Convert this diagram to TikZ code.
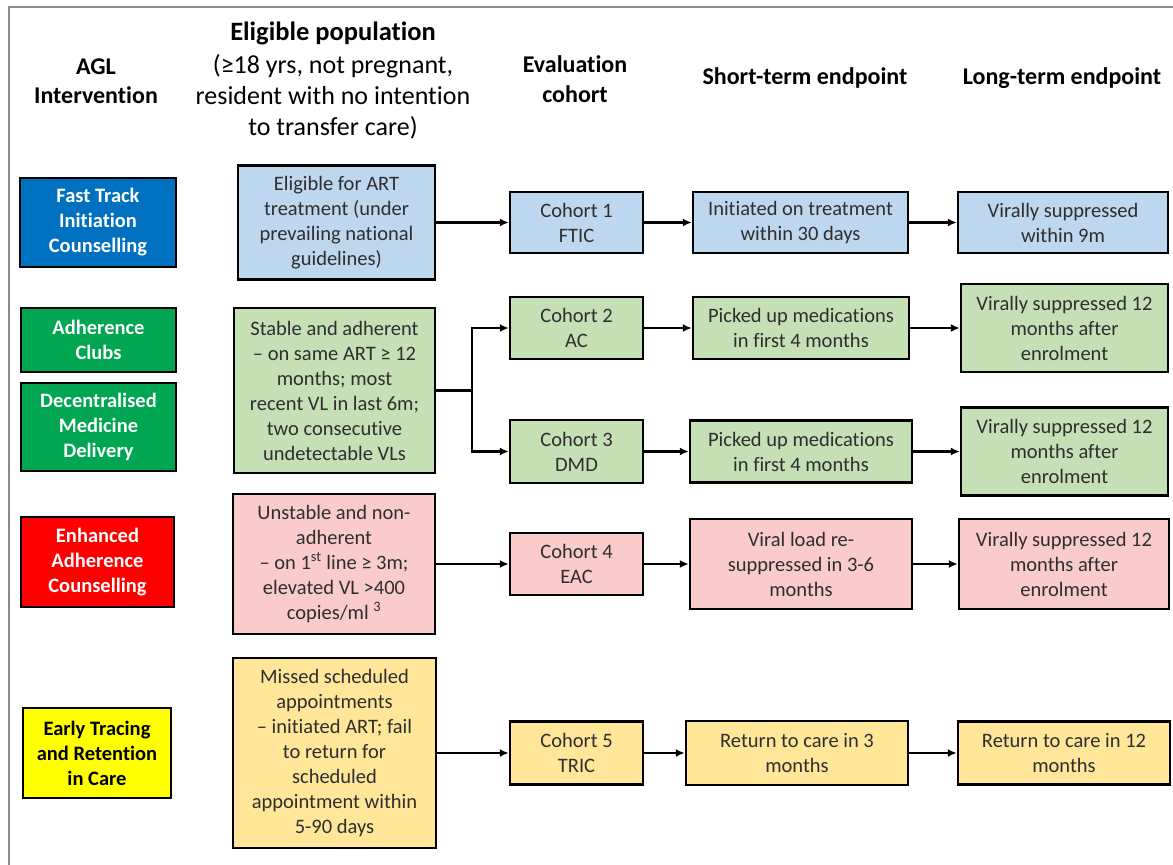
\documentclass[tikz,border=0pt]{standalone}
\usepackage{fontspec}
\setmainfont{Carlito}[Ligatures=NoCommon]
\usetikzlibrary{arrows.meta}
\definecolor{dblue}{HTML}{0070C0}
\definecolor{lblue}{HTML}{BDD7EE}
\definecolor{dgreen}{HTML}{00A651}
\definecolor{lgreen}{HTML}{C5E0B4}
\definecolor{dred}{HTML}{FF0000}
\definecolor{lpink}{HTML}{F9CBCB}
\definecolor{dyellow}{HTML}{FFFF00}
\definecolor{lyellow}{HTML}{FFE699}
\definecolor{txtgray}{HTML}{2E2E2E}
\definecolor{framegray}{HTML}{8C8C8C}
\begin{document}
\begin{tikzpicture}[x=1pt,y=-1pt,
  box/.style={draw=black, line width=2.4pt, align=center, inner sep=0pt, text=txtgray,
    font=\fontsize{20.5}{25}\selectfont},
  ibox/.style={box, text=white, font=\bfseries\fontsize{20.5}{25}\selectfont},
  hdr/.style={align=center, inner sep=0pt, text=black, font=\bfseries\fontsize{24}{29.5}\selectfont},
  arr/.style={line width=2.3pt, -{Latex[length=9pt,width=8pt]}},
  conn/.style={line width=2.3pt}
]
\useasboundingbox (0,0) rectangle (1173,865);
\draw[framegray, line width=1.5pt] (9,865) -- (9,7) -- (1173,7);

% headers
\node[hdr] (hAGL) at (96,81) {AGL\\Intervention};
\node[hdr, font=\bfseries\fontsize{26.5}{31}\selectfont] (hElig) at (333,33) {Eligible population};
\node[align=center, inner sep=0pt, font=\fontsize{26}{31}\selectfont] (hEligSub) at (333,97) {(≥18 yrs, not pregnant,\\resident with no intention\\to transfer care)};
\node[hdr] (hEval) at (575,79) {Evaluation\\cohort};
\node[hdr] (hShort) at (805,78) {Short-term endpoint};
\node[hdr] (hLong) at (1062,78) {Long-term endpoint};

% intervention column
\node[ibox, fill=dblue, minimum width=156pt, minimum height=89pt] (iFT) at (98,222.5) {Fast Track\\Initiation\\Counselling};
\node[ibox, fill=dgreen, minimum width=155pt, minimum height=64pt] (iAC) at (98.5,340) {Adherence\\Clubs};
\node[ibox, fill=dgreen, minimum width=155pt, minimum height=88pt] (iDMD) at (98.5,427) {Decentralised\\Medicine\\Delivery};
\node[ibox, fill=dred, minimum width=153pt, minimum height=90pt] (iEAC) at (97.5,562) {Enhanced\\Adherence\\Counselling};
\node[ibox, fill=dyellow, text=black, minimum width=148pt, minimum height=90pt] (iTR) at (97,753) {Early Tracing\\and Retention\\in Care};

% eligible population column
\node[box, fill=lblue, minimum width=197pt, minimum height=114pt] (eFT) at (336.5,222.5) {Eligible for ART\\treatment (under\\prevailing national\\guidelines)};
\node[box, fill=lgreen, minimum width=201pt, minimum height=165pt] (eAD) at (334.5,390.5) {Stable and adherent\\– on same ART ≥ 12\\months; most\\recent VL in last 6m;\\two consecutive\\undetectable VLs};
\node[box, fill=lpink, minimum width=202pt, minimum height=140pt] (eEA) at (334,564) {Unstable and non-\\adherent\\– on 1\textsuperscript{st} line ≥ 3m;\\elevated VL >400\\copies/ml \textsuperscript{3}};
\node[box, fill=lyellow, minimum width=203pt, minimum height=190pt] (eTR) at (334.5,753) {Missed scheduled\\appointments\\– initiated ART; fail\\to return for\\scheduled\\appointment within\\5-90 days};

% cohort column
\node[box, fill=lblue, minimum width=133pt, minimum height=61pt] (c1) at (576.5,222.5) {Cohort 1\\FTIC};
\node[box, fill=lgreen, minimum width=133pt, minimum height=62pt] (c2) at (576.5,328) {Cohort 2\\AC};
\node[box, fill=lgreen, minimum width=133pt, minimum height=63pt] (c3) at (576.5,451.5) {Cohort 3\\DMD};
\node[box, fill=lpink, minimum width=133pt, minimum height=62pt] (c4) at (576.5,564) {Cohort 4\\EAC};
\node[box, fill=lyellow, minimum width=133pt, minimum height=63pt] (c5) at (576.5,753) {Cohort 5\\TRIC};

% short-term column
\node[box, fill=lblue, minimum width=215pt, minimum height=61pt] (s1) at (800.5,222.5) {Initiated on treatment\\within 30 days};
\node[box, fill=lgreen, minimum width=216pt, minimum height=62pt] (s2) at (801,328) {Picked up medications\\in first 4 months};
\node[box, fill=lgreen, minimum width=222pt, minimum height=62pt] (s3) at (801,451.5) {Picked up medications\\in first 4 months};
\node[box, fill=lpink, minimum width=222pt, minimum height=90pt] (s4) at (801,564) {Viral load re-\\suppressed in 3-6\\months};
\node[box, fill=lyellow, minimum width=222pt, minimum height=64pt] (s5) at (797,753) {Return to care in 3\\months};

% long-term column
\node[box, fill=lblue, minimum width=210pt, minimum height=61pt] (l1) at (1063,222.5) {Virally suppressed\\within 9m};
\node[box, fill=lgreen, minimum width=207pt, minimum height=88pt] (l2) at (1064.5,328) {Virally suppressed 12\\months after\\enrolment};
\node[box, fill=lgreen, minimum width=207pt, minimum height=88pt] (l3) at (1064.5,451.5) {Virally suppressed 12\\months after\\enrolment};
\node[box, fill=lpink, minimum width=210pt, minimum height=90pt] (l4) at (1064,564) {Virally suppressed 12\\months after\\enrolment};
\node[box, fill=lyellow, minimum width=212pt, minimum height=63pt] (l5) at (1064,753) {Return to care in 12\\months};

% connectors
\draw[arr] (eFT) -- (c1);
\draw[arr] (c1) -- (s1);
\draw[arr] (s1) -- (l1);

\coordinate (br) at (472,390.5);
\draw[conn] (eAD.east) -- (br);
\draw[arr] (br) |- (c2.west);
\draw[arr] (br) |- (c3.west);
\draw[arr] (c2) -- (s2);
\draw[arr] (s2) -- (l2);
\draw[arr] (c3) -- (s3);
\draw[arr] (s3) -- (l3);

\draw[arr] (eEA) -- (c4);
\draw[arr] (c4) -- (s4);
\draw[arr] (s4) -- (l4);

\draw[arr] (eTR) -- (c5);
\draw[arr] (c5) -- (s5);
\draw[arr] (s5) -- (l5);
\end{tikzpicture}
\end{document}
